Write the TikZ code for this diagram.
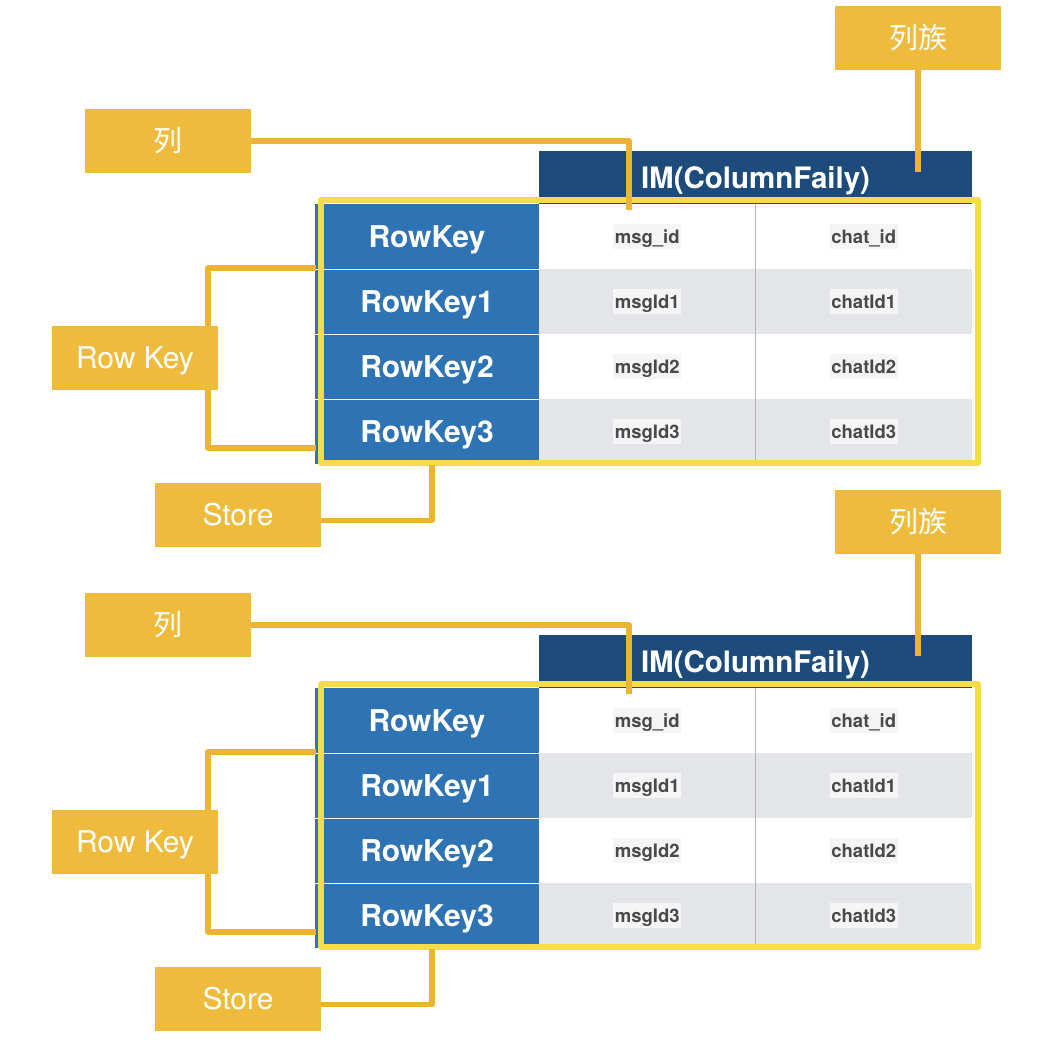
\documentclass[tikz,border=0pt]{standalone}
\usepackage{fontspec}
\setmainfont{TeX Gyre Heros}
\newfontfamily\cjk{Noto Sans CJK SC}
\definecolor{tagY}{HTML}{EEBB3D}
\definecolor{linkY}{HTML}{ECB431}
\definecolor{frameY}{HTML}{F6DB4A}
\definecolor{hdrB}{HTML}{1D4C7C}
\definecolor{keyB}{HTML}{2E73B3}
\definecolor{rowG}{HTML}{E4E5E9}
\definecolor{txtG}{HTML}{4A4A4A}
\definecolor{hlG}{HTML}{F5F5F5}
\definecolor{divG}{HTML}{B4B4B4}
\tikzset{
  tagbase/.style={fill=tagY, text=white, minimum width=166pt, minimum height=64pt, inner sep=0pt},
  tag/.style={tagbase, text height=21.6pt, text depth=0pt, font=\fontsize{30}{30}\selectfont},
  cjktag/.style={tagbase, font=\cjk\fontsize{29}{29}\selectfont},
  hdr/.style={fill=hdrB, text=white, minimum width=433pt, minimum height=53pt, inner sep=0pt, text height=21.2pt, text depth=0pt, font=\bfseries\fontsize{29.5}{29.5}\selectfont},
  keycell/.style={fill=keyB, text=white, minimum width=224pt, minimum height=65pt, inner sep=0pt, text height=21.6pt, text depth=0pt, font=\bfseries\fontsize{30}{30}\selectfont},
  datacell/.style={minimum width=216.5pt, minimum height=65pt, inner sep=0pt},
  grayrow/.style={datacell, fill=rowG},
  datatext/.style={fill=hlG, text=txtG, inner sep=1.5pt, text height=17.5pt, text depth=3.7pt, font=\bfseries\fontsize{18.5}{18.5}\selectfont},
  sep/.style={draw=white, line width=1pt},
  divider/.style={draw=divG, line width=0.8pt},
  link/.style={draw=linkY, line width=5.5pt, line join=round, line cap=butt},
  frame/.style={draw=frameY, line width=6pt, line join=round},
}
\newcommand\hbpanel[1]{%
  % tags
  \node[cjktag] (#1lz) at (918,38) {列族};
  \node[cjktag] (#1lie) at (168,141) {列};
  \node[tag] (#1rk) at (135,358) {Row Key};
  \node[tag] (#1st) at (238,514.5) {Store};
  % table header
  \node[hdr] (#1hd) at (755.5,177.5) {IM(ColumnFaily)};
  % rows
  \node[keycell] (#1k0) at (427,236.5) {RowKey};
  \node[keycell] (#1k1) at (427,301.5) {RowKey1};
  \node[keycell] (#1k2) at (427,366.5) {RowKey2};
  \node[keycell] (#1k3) at (427,431.5) {RowKey3};
  \node[datacell] (#1a0) at (647.25,236.5) {};
  \node[datacell] (#1b0) at (863.75,236.5) {};
  \node[grayrow] (#1a1) at (647.25,301.5) {};
  \node[grayrow] (#1b1) at (863.75,301.5) {};
  \node[datacell] (#1a2) at (647.25,366.5) {};
  \node[datacell] (#1b2) at (863.75,366.5) {};
  \node[grayrow] (#1a3) at (647.25,431.5) {};
  \node[grayrow] (#1b3) at (863.75,431.5) {};
  \node[datatext] (#1ta0) at (#1a0) {msg\_id};
  \node[datatext] (#1tb0) at (#1b0) {chat\_id};
  \node[datatext] (#1ta1) at (#1a1) {msgId1};
  \node[datatext] (#1tb1) at (#1b1) {chatId1};
  \node[datatext] (#1ta2) at (#1a2) {msgId2};
  \node[datatext] (#1tb2) at (#1b2) {chatId2};
  \node[datatext] (#1ta3) at (#1a3) {msgId3};
  \node[datatext] (#1tb3) at (#1b3) {chatId3};
  \draw[sep] (#1k0.south west) -- (#1k0.south east);
  \draw[sep] (#1k1.south west) -- (#1k1.south east);
  \draw[sep] (#1k2.south west) -- (#1k2.south east);
  \draw[divider] (#1a0.north east) -- (#1a3.south east);
  % yellow frame
  \draw[frame] (321,200) rectangle (978,463);
  % connectors
  \coordinate (#1lzEnd) at (918,172);
  \coordinate (#1lieEnd) at (629,210);
  \coordinate (#1rkT) at (316,268);
  \coordinate (#1rkB) at (316,448);
  \coordinate (#1stEnd) at (432,465);
  \draw[link] (#1lz.south) -- (#1lzEnd);
  \draw[link] (#1lie.east) -| (#1lieEnd);
  \draw[link] ([xshift=73pt]#1rk.north) |- (#1rkT);
  \draw[link] ([xshift=73pt]#1rk.south) |- (#1rkB);
  \draw[link] ([yshift=-6pt]#1st.east) -| (#1stEnd);
}
\begin{document}
\begin{tikzpicture}[x=1pt,y=-1pt]
  \fill[white] (0,0) rectangle (1040,1040);
  \useasboundingbox (0,0) rectangle (1040,1040);
  \begin{scope}
    \hbpanel{p}
  \end{scope}
  \begin{scope}[yshift=-484pt]
    \hbpanel{q}
  \end{scope}
\end{tikzpicture}
\end{document}
